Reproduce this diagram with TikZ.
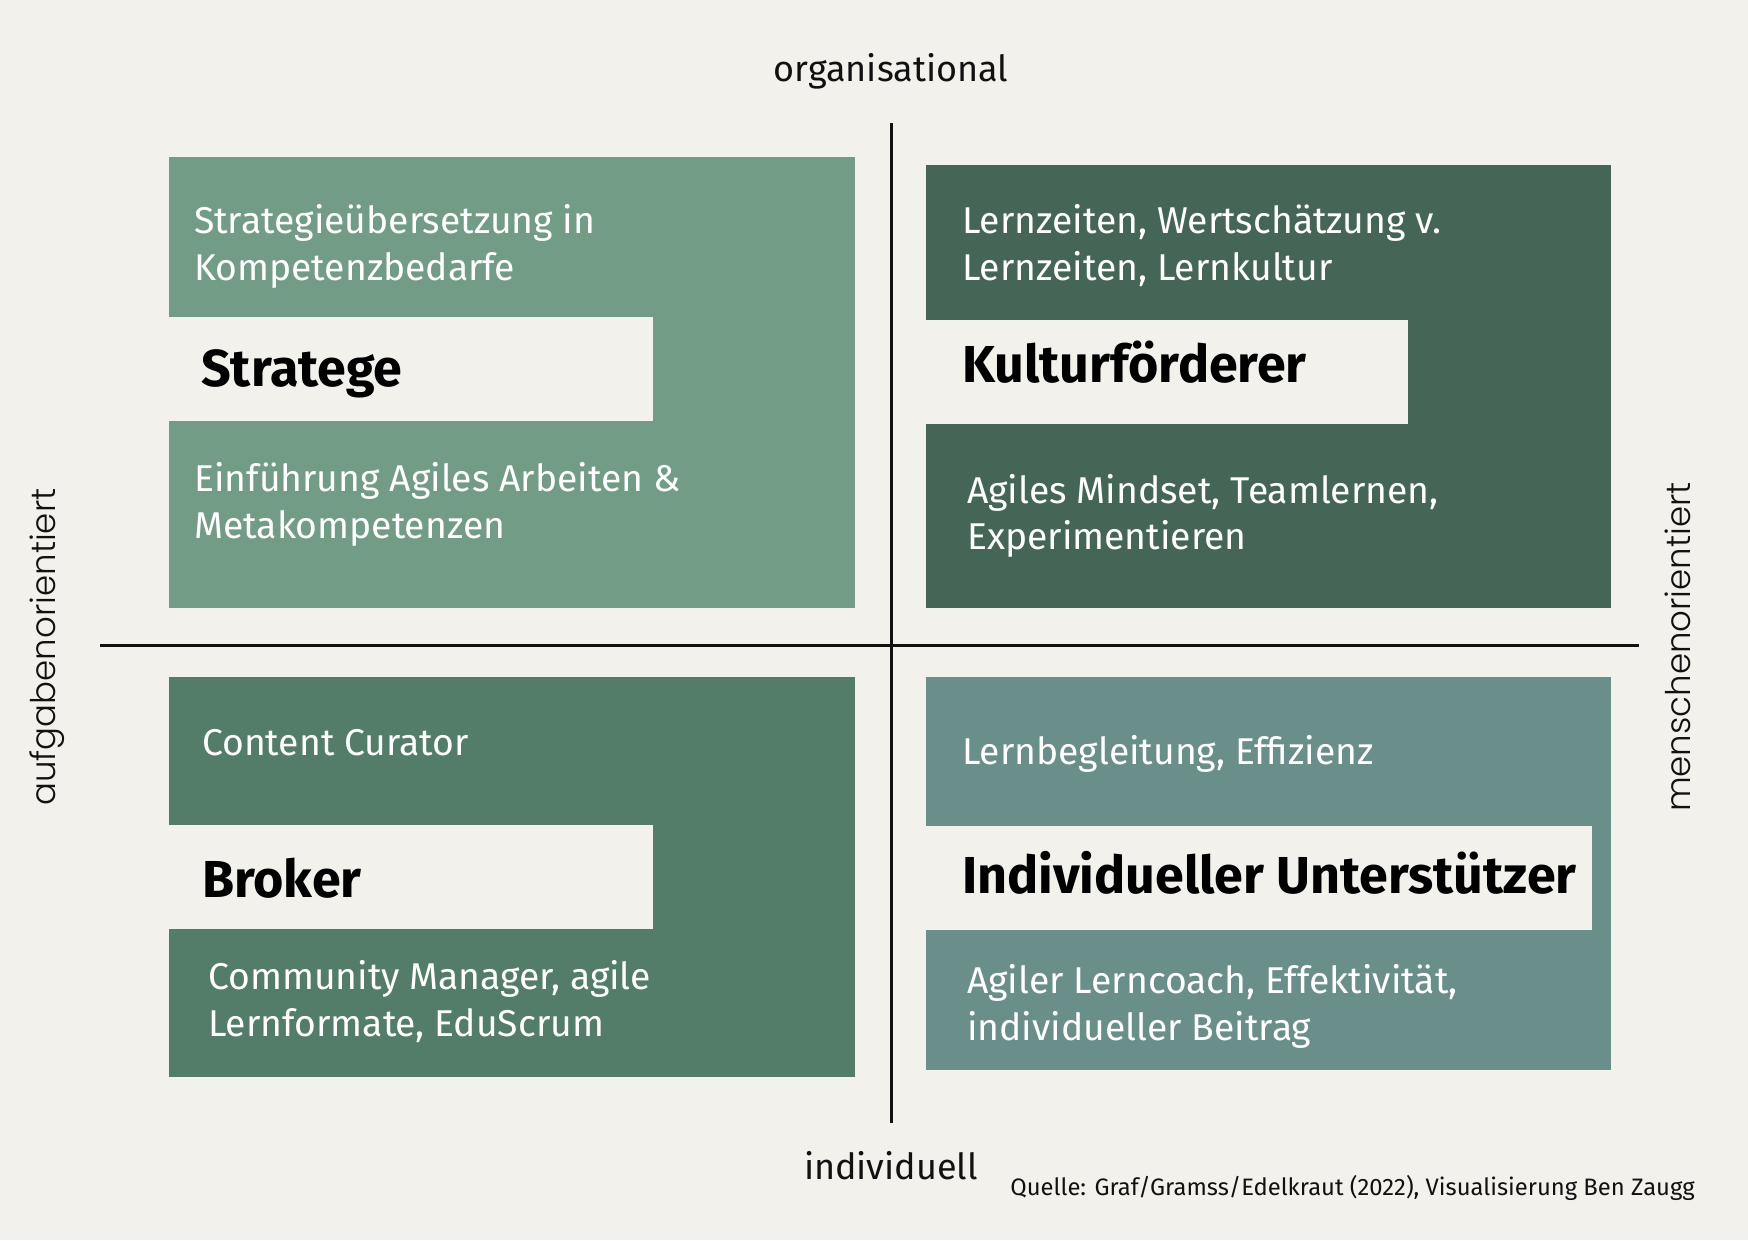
\documentclass[tikz,border=0pt]{standalone}
\usepackage{fontspec}
\setmainfont{Fira Sans}
\newfontfamily\axisfont{Poppins}[UprightFont={* Light}]
\definecolor{bg}{HTML}{F2F1EC}
\definecolor{cStrat}{HTML}{739C87}
\definecolor{cKult}{HTML}{456656}
\definecolor{cBrok}{HTML}{537D68}
\definecolor{cIndi}{HTML}{6A8E8A}
\definecolor{ink}{HTML}{111111}
\tikzset{
  quad/.style={rectangle, inner sep=0pt, anchor=north west, draw=none},
  band/.style={rectangle, inner sep=0pt, anchor=north west, fill=bg, draw=none},
  body/.style={anchor=base west, inner sep=0pt, text=white, font=\fontsize{37.3}{44}\selectfont},
  title/.style={anchor=base west, inner sep=0pt, text=black, font=\fontsize{52}{60}\selectfont\bfseries},
  axislbl/.style={inner sep=0pt, text=ink, font=\fontsize{36}{42}\selectfont},
  sidelbl/.style={inner sep=0pt, text=ink, rotate=90, font=\axisfont\fontsize{34}{40}\selectfont},
  axisline/.style={draw=ink, line width=3pt}
}
\begin{document}
\begin{tikzpicture}[x=1pt,y=-1pt]
\fill[bg] (0,0) rectangle (1748,1240);
\useasboundingbox (0,0) rectangle (1748,1240);
% quadrants
\node[quad, fill=cStrat, minimum width=686, minimum height=451] (qS) at (169,157) {};
\node[quad, fill=cKult, minimum width=685, minimum height=443] (qK) at (926,165) {};
\node[quad, fill=cBrok, minimum width=686, minimum height=400] (qB) at (169,677) {};
\node[quad, fill=cIndi, minimum width=685, minimum height=393] (qI) at (926,677) {};
% bands
\node[band, minimum width=484, minimum height=104] (bS) at (169,317) {};
\node[band, minimum width=482, minimum height=104] (bK) at (926,320) {};
\node[band, minimum width=484, minimum height=104] (bB) at (169,825) {};
\node[band, minimum width=666, minimum height=104] (bI) at (926,826) {};
% axes
\coordinate (vT) at (891,123);
\coordinate (vB) at (891,1123);
\coordinate (hL) at (100,645);
\coordinate (hR) at (1639,645);
\draw[axisline] (vT) -- (vB);
\draw[axisline] (hL) -- (hR);
% texts Stratege
\node[body] (s1) at (194,233) {Strategieübersetzung in};
\node[body] (s2) at (194,280) {Kompetenzbedarfe};
\node[title] (sT) at (201,386) {Stratege};
\node[body] (s3) at (194,491) {Einführung Agiles Arbeiten \&};
\node[body] (s4) at (194,538) {Metakompetenzen};
% Kultur
\node[body] (k1) at (962,233) {Lernzeiten, Wertschätzung v.};
\node[body] (k2) at (962,280) {Lernzeiten, Lernkultur};
\node[title] (kT) at (962,382) {Kulturförderer};
\node[body] (k3) at (967,503) {Agiles Mindset, Teamlernen,};
\node[body] (k4) at (967,549) {Experimentieren};
% Broker
\node[body] (b1) at (202,755) {Content Curator};
\node[title] (bT) at (202,897) {Broker};
\node[body] (b2) at (208,989) {Community Manager, agile};
\node[body] (b3) at (208,1036) {Lernformate, EduScrum};
% Individuell
\node[body] (i1) at (962,764) {Lernbegleitung, Effizienz};
\node[title] (iT) at (962,893) {Individueller Unterstützer};
\node[body] (i2) at (967,993) {Agiler Lerncoach, Effektivität,};
\node[body] (i3) at (967,1040) {individueller Beitrag};
% axis labels
\node[axislbl] (org) at (891,71) {organisational};
\node[axislbl] (ind) at (891,1166) {individuell};
\node[sidelbl] (auf) at (47,647) {aufgabenorientiert};
\node[sidelbl] (men) at (1678,647) {menschenorientiert};
\node[anchor=base east, inner sep=0pt, text=ink, font=\fontsize{23.8}{28}\selectfont] (src) at (1695,1195) {Quelle: Graf/Gramss/Edelkraut (2022), Visualisierung Ben Zaugg};
\end{tikzpicture}
\end{document}
